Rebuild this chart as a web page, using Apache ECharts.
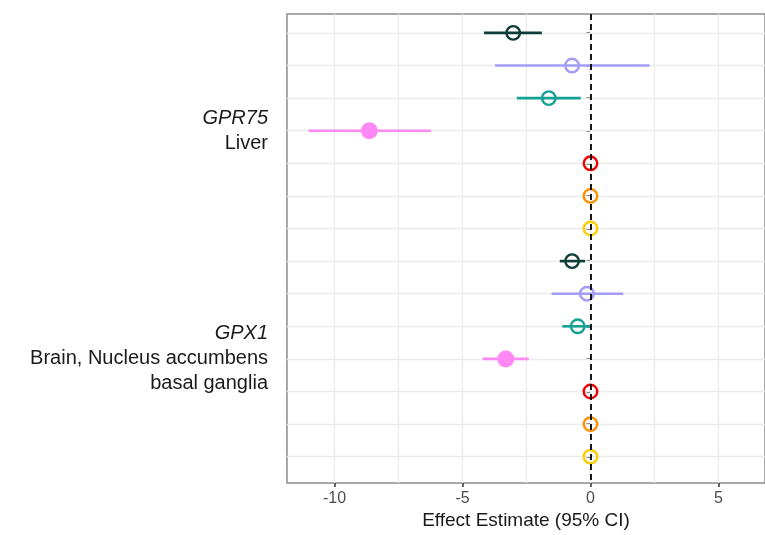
<!DOCTYPE html>
<html>
<head>
<meta charset="utf-8">
<script src="https://cdn.jsdelivr.net/npm/echarts@6/dist/echarts.min.js"></script>
<style>html,body{margin:0;padding:0;background:#fff;overflow:hidden}#c{width:765px;height:535px}</style>
</head>
<body>
<div id="c"></div>
<script>
// ---- data ----
var rows      = [1, 2, 3, 4, 5, 6, 7, 8, 9, 10, 11, 12, 13, 14];
var estimates = [-3.02, -0.72, -1.63, -8.64, 0, 0, 0, -0.72, -0.14, -0.50, -3.31, 0, 0, 0];
var lowerCI   = [-4.16, -3.73, -2.88, -11.02, 0, 0, 0, -1.20, -1.52, -1.10, -4.21, 0, 0, 0];
var upperCI   = [-1.90, 2.31, -0.38, -6.24, 0, 0, 0, -0.21, 1.28, 0.01, -2.41, 0, 0, 0];
var methodIdx = [0, 1, 2, 3, 4, 5, 6, 0, 1, 2, 3, 4, 5, 6];
var significant = [false, false, false, true, false, false, false, false, false, false, true, false, false, false];
var methodColors = ['#0e3c37', '#a39cf8', '#15a095', '#ff88f5', '#f20000', '#ff9000', '#ffcc00'];
var groupRows  = [4, 11];
var groupGenes = ['GPR75', 'GPX1'];
var groupTissues = [['Liver'], ['Brain, Nucleus accumbens', 'basal ganglia']];
var xTickLabels = [-10, -5, 0, 5];
var xGridValues = [-10, -7.5, -5, -2.5, 0, 2.5, 5];

var chart = echarts.init(document.getElementById('c'));
var FONT = "'Liberation Sans', Arial, sans-serif";

var pointData = rows.map(function (r, i) {
  var col = methodColors[methodIdx[i]];
  return {
    value: [estimates[i], r],
    symbolSize: significant[i] ? 17 : 13.5,
    itemStyle: significant[i]
      ? { color: col, borderColor: col, borderWidth: 0, opacity: 1 }
      : { color: 'rgba(255,255,255,0)', borderColor: col, borderWidth: 2.4, opacity: 1 }
  };
});
var barData = rows.map(function (r, i) { return [lowerCI[i], upperCI[i], r, methodIdx[i]]; });

var option = {
  animation: false,
  textStyle: { fontFamily: FONT },
  grid: { left: 287, top: 14, right: -4, bottom: 48, show: true, borderColor: '#8c8c8c', borderWidth: 1.5, backgroundColor: '#fff' },
  xAxis: {
    type: 'value', min: -11.86, max: 6.82,
    axisLine: { show: false },
    axisTick: { show: true, customValues: xTickLabels, length: 4, lineStyle: { color: '#333', width: 1.5 } },
    axisLabel: { customValues: xTickLabels, fontSize: 16, color: '#4d4d4d', margin: 7, fontFamily: FONT },
    splitLine: { show: false },
    name: 'Effect Estimate (95% CI)', nameLocation: 'middle', nameGap: 26,
    nameTextStyle: { fontSize: 19, color: '#1a1a1a', fontFamily: FONT }
  },
  yAxis: {
    type: 'value', inverse: true, min: 0.42, max: 14.81,
    axisLine: { show: false },
    axisTick: { show: true, customValues: rows, length: 4, lineStyle: { color: '#333', width: 1.5 } },
    axisLabel: {
      customValues: groupRows, margin: 19,
      formatter: function (v) {
        var k = groupRows.indexOf(Math.round(v));
        if (k < 0) return '';
        var s = '{g|' + groupGenes[k] + '}';
        groupTissues[k].forEach(function (t) { s += '\n{t|' + t + '}'; });
        return s;
      },
      rich: {
        g: { fontSize: 20, fontStyle: 'italic', color: '#1a1a1a', lineHeight: 25, align: 'right', fontFamily: FONT },
        t: { fontSize: 20, color: '#1a1a1a', lineHeight: 25, align: 'right', fontFamily: FONT }
      }
    },
    splitLine: { show: false }
  },
  series: [
    {
      type: 'line', data: [], silent: true, z: 1,
      markLine: {
        z: 1, silent: true, symbol: 'none', label: { show: false },
        lineStyle: { color: '#ebebeb', width: 1.3, type: 'solid', opacity: 1 },
        data: rows.map(function (r) { return { yAxis: r }; })
          .concat(xGridValues.map(function (v) { return { xAxis: v }; }))
      }
    },
    {
      type: 'custom', z: 3, silent: true,
      renderItem: function (params, api) {
        var p1 = api.coord([api.value(0), api.value(2)]);
        var p2 = api.coord([api.value(1), api.value(2)]);
        var h = 2.6;
        return {
          type: 'rect',
          shape: { x: p1[0], y: p1[1] - h / 2, width: Math.max(p2[0] - p1[0], 0), height: h },
          style: { fill: methodColors[api.value(3)], opacity: 1 }
        };
      },
      encode: { x: [0, 1], y: 2 },
      data: barData
    },
    {
      type: 'scatter', z: 4, symbol: 'circle', data: pointData,
      itemStyle: { opacity: 1 }
    },
    {
      type: 'line', data: [], silent: true, z: 6,
      markLine: {
        z: 10, silent: true, symbol: 'none', label: { show: false },
        lineStyle: { color: '#000', width: 1.8, type: [6, 4], opacity: 1 },
        data: [{ xAxis: 0 }]
      }
    }
  ]
};
chart.setOption(option);
</script>
</body>
</html>
